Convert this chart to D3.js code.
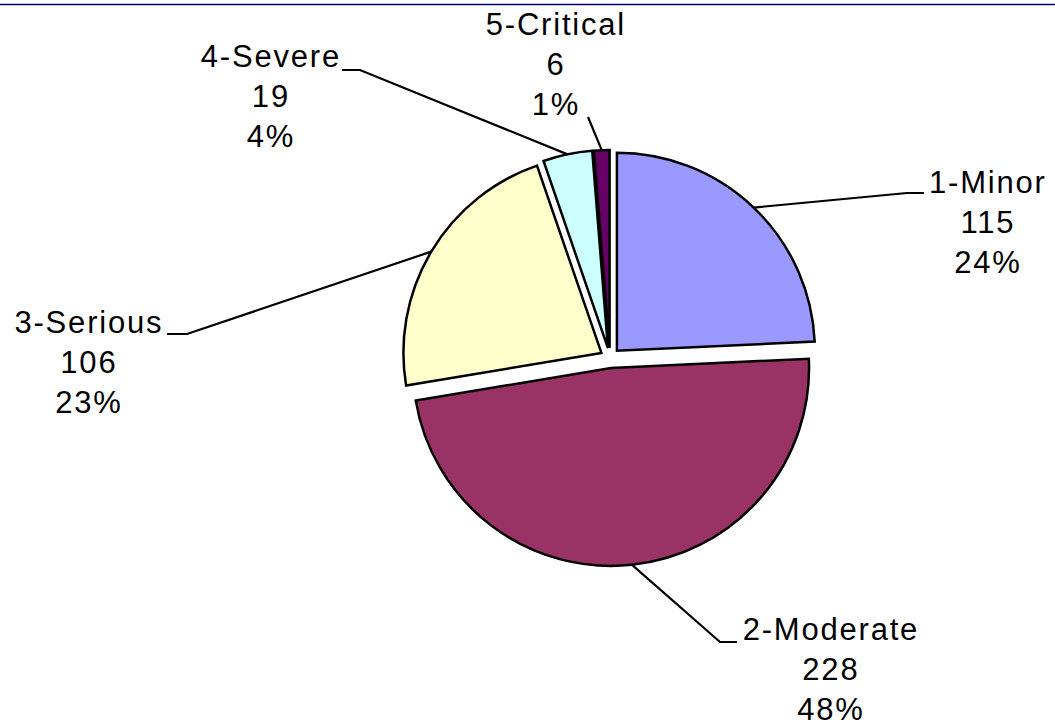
<!DOCTYPE html>
<html>
<head>
<meta charset="utf-8">
<script src="https://cdn.jsdelivr.net/npm/d3@7"></script>
<style>
  html, body { margin: 0; padding: 0; background: #fff; }
  svg { display: block; }
  text { font-family: "Liberation Sans", Arial, sans-serif; }
</style>
</head>
<body>
<svg id="chart" width="1055" height="726"></svg>
<script>
// ---- data ----
const categories = ["1-Minor", "2-Moderate", "3-Serious", "4-Severe", "5-Critical"];
const values = [115, 228, 106, 19, 6];
const percentLabels = ["24%", "48%", "23%", "4%", "1%"];
const colors = ["#9999FF", "#993366", "#FFFFCC", "#CCFFFF", "#660066"];

// ---- layout (label placement, not data) ----
const labelLayout = [
  { elbow: [907, 193], end: [924, 193], tx: 987, ty: 193 },
  { elbow: [720, 642], end: [737, 642], tx: 830, ty: 640 },
  { elbow: [187, 334], end: [167, 334], tx: 88,  ty: 333 },
  { elbow: [360, 70],  end: [342, 70],  tx: 270, ty: 67 },
  { elbow: null,       end: [588, 117], tx: 555, ty: 35 }
];

const W = 1055, H = 726;
const cx = 610, cy = 358, R = 198, explode = 10;
const svg = d3.select("#chart");

// top border line
svg.append("line")
  .attr("x1", 0).attr("x2", W).attr("y1", 4.5).attr("y2", 4.5)
  .attr("stroke", "#000080").attr("stroke-width", 1.5);

const pie = d3.pie().sort(null).value(d => d.v);
const data = categories.map((c, i) => ({ c, v: values[i], p: percentLabels[i], col: colors[i], i }));
const arcs = pie(data);
const arc = d3.arc().innerRadius(0).outerRadius(R);

const g = svg.append("g").attr("transform", `translate(${cx},${cy})`);

arcs.forEach(a => {
  const mid = (a.startAngle + a.endAngle) / 2;
  const ox = explode * Math.sin(mid), oy = -explode * Math.cos(mid);
  a.ox = ox; a.oy = oy; a.mid = mid;
  g.append("path")
    .attr("d", arc(a))
    .attr("transform", `translate(${ox},${oy})`)
    .attr("fill", a.data.col)
    .attr("stroke", "#000")
    .attr("stroke-width", 2.5)
    .attr("stroke-linejoin", "miter");
});

// leader lines and labels
arcs.forEach(a => {
  const L = labelLayout[a.data.i];
  const ax = cx + a.ox + R * Math.sin(a.mid);
  const ay = cy + a.oy - R * Math.cos(a.mid);
  const pts = [[ax, ay]];
  if (L.elbow) pts.push(L.elbow);
  pts.push(L.end);
  svg.append("path")
    .attr("d", d3.line()(pts))
    .attr("fill", "none")
    .attr("stroke", "#000")
    .attr("stroke-width", 2.2);

  const lines = [a.data.c, String(a.data.v), a.data.p];
  const t = svg.append("text")
    .attr("text-anchor", "middle")
    .attr("font-size", 31)
    .attr("letter-spacing", 1.8)
    .attr("fill", "#000");
  lines.forEach((s, k) => {
    t.append("tspan")
      .attr("x", L.tx + 0.9)
      .attr("y", L.ty + k * 40)
      .text(s);
  });
});
</script>
</body>
</html>
